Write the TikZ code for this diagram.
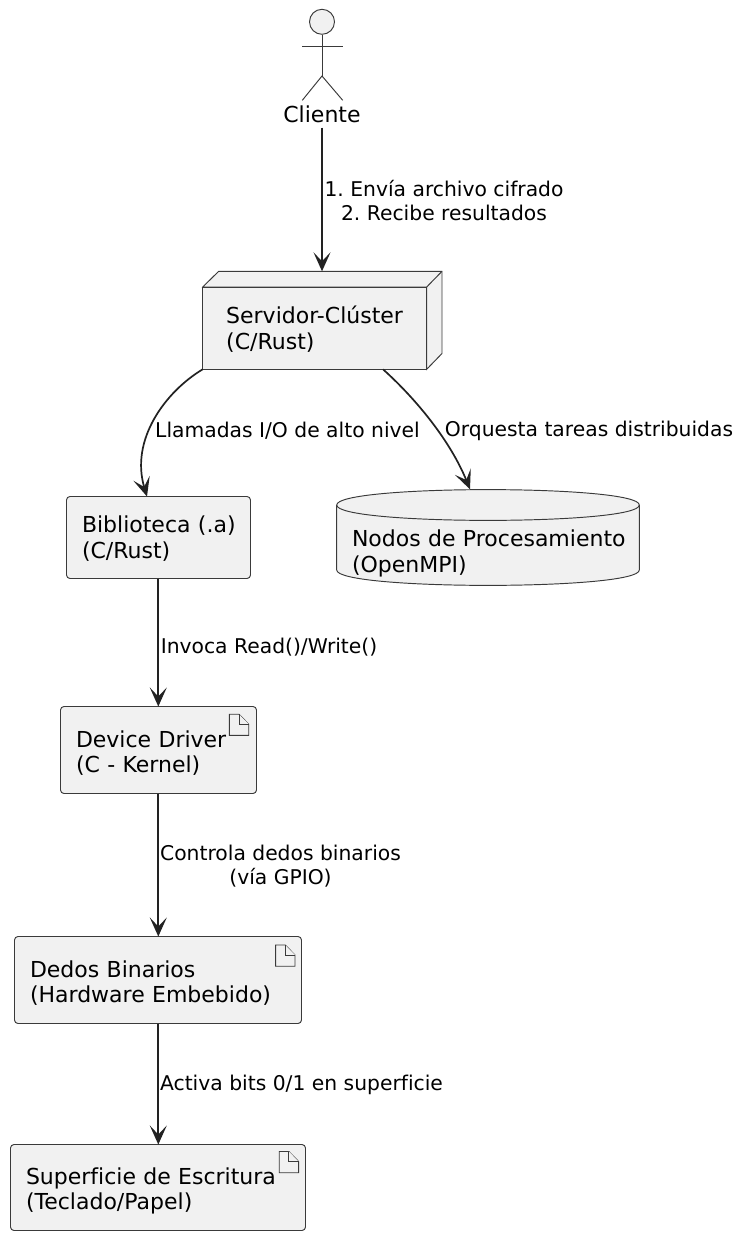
\documentclass[tikz,border=0pt]{standalone}
\usepackage{fontspec}
\setmainfont[Ligatures=NoCommon]{DejaVu Sans}
\usetikzlibrary{arrows.meta,shapes.geometric}
\definecolor{boxfill}{HTML}{F1F1F1}
\definecolor{boxline}{HTML}{3A3A3A}
\definecolor{edgeline}{HTML}{222222}
\frenchspacing
\hfuzz=400pt
\tikzset{
  shapeline/.style={draw=boxline,line width=0.95pt},
  elem/.style={shapeline,fill=boxfill,inner sep=0pt,outer sep=0pt,align=left,text=black,
    font=\fontsize{22}{25.4}\selectfont},
  card/.style={elem,rounded corners=3.5pt},
  edge/.style={draw=edgeline,line width=1.7pt,-{Stealth[length=19pt,width=17pt,inset=9pt]}},
  edgetext/.style={inner sep=0pt,align=center,text=black,font=\fontsize{20.3}{23.6}\selectfont},
  icon/.style={shapeline,fill=boxfill,line width=0.9pt}
}
% two left-aligned lines, moved down by #1 points inside their box
\newcommand{\twolines}[3]{\rule{0pt}{\dimexpr 16.7pt+2\dimexpr #1pt\relax\relax}\mbox{#2}\\\mbox{#3}}
\newcommand{\docicon}[2]{%
  \draw[icon] (#1,#2) -- ++(9.7,0) -- ++(9.7,10) -- ++(0,11.2) -- ++(-19.4,0) -- cycle;
  \draw[icon] (#1+9.7,#2) -- ++(0,10) -- ++(9.7,0);
}
\begin{document}
\begin{tikzpicture}[x=1pt,y=-1pt]
\useasboundingbox (0,0) rectangle (744,1238);
\fill[white] (0,0) rectangle (744,1238);

% actor
\node[shapeline,fill=boxfill,circle,minimum size=25pt,inner sep=0pt] (head) at (322,21.8) {};
\coordinate (hip) at (322,76);
\draw[shapeline] (head.south) -- (hip);
\coordinate (armL) at (302.3,46.3);
\coordinate (armR) at (342.7,46.3);
\coordinate (legL) at (302.3,100.3);
\coordinate (legR) at (342.7,100.3);
\draw[shapeline] (armL) -- (armR);
\draw[shapeline] (legL) -- (hip) -- (legR);
\node[inner sep=0pt,minimum height=26pt,font=\fontsize{22}{25}\selectfont] (cliente) at (322,114.5) {Cliente};

% server node (3D box)
\draw[shapeline,fill=boxfill] (202.7,287) -- (218.7,271.3) -- (442,271.3) -- (442,353.5) -- (426.7,369.3) -- (426.7,287) -- cycle;
\node[elem,minimum width=224pt,minimum height=82.3pt,text width=177pt] (srv) at (314.7,328.15) {\twolines{1.5}{Servidor-Clúster}{(C/Rust)}};
\draw[shapeline] (426.7,287) -- (442,271.3);
\coordinate (srvtop) at (322,271.3);

% database
\path[shapeline,fill=boxfill] (336.7,505) .. controls (336.7,484.5) and (639.3,484.5) .. (639.3,505)
  -- (639.3,570) .. controls (639.3,590.5) and (336.7,590.5) .. (336.7,570) -- cycle;
\draw[shapeline] (336.7,505) .. controls (336.7,525.5) and (639.3,525.5) .. (639.3,505);
\node[inner sep=0pt,minimum width=303pt,minimum height=50pt,text width=272pt,align=left,font=\fontsize{22}{25.4}\selectfont] (db) at (488,553.5) {\twolines{0}{Nodos de Procesamiento}{(OpenMPI)}};
\coordinate (dbtop) at (470,489.3);

% cards
\node[card,minimum width=184pt,minimum height=82pt,text width=153pt] (lib) at (158.5,537.5) {\twolines{1}{Biblioteca (.a)}{(C/Rust)}};
\node[card,minimum width=196pt,minimum height=87pt,text width=165pt] (drv) at (158.5,750) {\twolines{3.2}{Device Driver}{(C - Kernel)}};
\docicon{229.3}{714.2}
\node[card,minimum width=287pt,minimum height=87pt,text width=256pt] (ded) at (158,980) {\twolines{3}{Dedos Binarios}{(Hardware Embebido)}};
\docicon{275.6}{945}
\node[card,minimum width=295pt,minimum height=86pt,text width=264pt] (sup) at (158,1187.5) {\twolines{3.2}{Superficie de Escritura}{(Teclado/Papel)}};
\docicon{279.2}{1151.5}

% connectors
\draw[edge] (cliente.south) -- (srvtop);
\draw[edge] (srv.south west) .. controls (165,392) and (130,440) .. ([xshift=-11.5pt]lib.north);
\coordinate (srvout) at (383,369.3);
\draw[edge] (srvout) .. controls (415,398) and (450,440) .. (dbtop);
\draw[edge] ([xshift=-0.2pt]lib.south) -- ([xshift=-0.2pt]drv.north);
\draw[edge] ([xshift=-0.2pt]drv.south) -- ([xshift=0.3pt]ded.north);
\draw[edge] ([xshift=0.3pt]ded.south) -- ([xshift=0.3pt]sup.north);

% labels
\node[edgetext] (l1) at (444,200.5) {1. Envía archivo cifrado\\2. Recibe resultados};
\node[edgetext] (l2) at (287.5,431) {Llamadas I/O de alto nivel};
\node[edgetext] (l3) at (589,431) {Orquesta tareas distribuidas};
\node[edgetext] (l4) at (269,647) {Invoca Read()/Write()};
\node[edgetext] (l5) at (280.5,866) {Controla dedos binarios\\(vía GPIO)};
\node[edgetext] (l6) at (301.5,1085) {Activa bits 0/1 en superficie};
\end{tikzpicture}
\end{document}
